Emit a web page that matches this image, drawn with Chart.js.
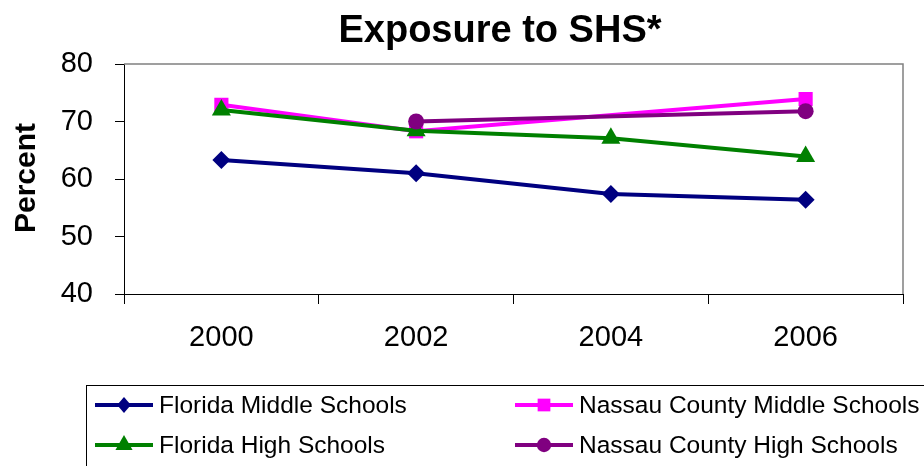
<!DOCTYPE html>
<html>
<head>
<meta charset="utf-8">
<script src="https://cdn.jsdelivr.net/npm/chart.js@4/dist/chart.umd.min.js"></script>
<style>
  html, body { margin: 0; padding: 0; background: #fff; }
  #wrap { width: 924px; height: 466px; position: relative; }
</style>
</head>
<body>
<div id="wrap"><canvas id="myChart"></canvas></div>
<script>
// values
const years = ['2000', '2002', '2004', '2006'];
const flMiddle = [63.3, 61.0, 57.4, 56.4];
const nassauMiddle = [72.9, 68.3, null, 73.9];
const flHigh = [72.0, 68.4, 67.1, 63.9];
const nassauHigh = [null, 70.0, null, 71.8];
const yTicks = [40, 50, 60, 70, 80];

const chartTitle = 'Exposure to SHS*';
const yTitle = 'Percent';
const FONT = '"Liberation Sans", Arial, sans-serif';

const series = [
    {label: 'Florida Middle Schools', data: flMiddle, color: '#000080', style: 'rectRot', r: 9, order: 4},
    {label: 'Nassau County Middle Schools', data: nassauMiddle, color: '#FF00FF', style: 'rect', r: 10, order: 3},
    {label: 'Florida High Schools', data: flHigh, color: '#008000', style: 'triangle', r: 11, order: 2},
    {label: 'Nassau County High Schools', data: nassauHigh, color: '#800080', style: 'circle', r: 8, order: 1}
];

function marker(ctx, style, x, y, r) {
    ctx.beginPath();
    if (style === 'rectRot') {
        ctx.moveTo(x - r * 0.85, y); ctx.lineTo(x, y - r); ctx.lineTo(x + r * 0.85, y); ctx.lineTo(x, y + r);
    } else if (style === 'rect') {
        const s = r * Math.SQRT1_2;
        ctx.rect(x - s, y - s, 2 * s, 2 * s);
    } else if (style === 'triangle') {
        ctx.moveTo(x, y - r);
        ctx.lineTo(x + r * 0.866, y + r * 0.5);
        ctx.lineTo(x - r * 0.866, y + r * 0.5);
    } else {
        ctx.arc(x, y, r, 0, Math.PI * 2);
    }
    ctx.closePath();
    ctx.fill();
}

const decor = {
    id: 'decor',
    beforeDatasetsDraw(chart) {
        const {ctx, chartArea: a} = chart;
        ctx.save();
        ctx.strokeStyle = '#808080';
        ctx.lineWidth = 1.5;
        ctx.beginPath();
        ctx.moveTo(a.left, a.top); ctx.lineTo(a.right, a.top); ctx.lineTo(a.right, a.bottom);
        ctx.stroke();
        ctx.restore();
    },
    afterDraw(chart) {
        const ctx = chart.ctx;
        ctx.save();
        // title
        ctx.fillStyle = '#000';
        ctx.font = 'bold 38px ' + FONT;
        ctx.textAlign = 'center';
        ctx.textBaseline = 'alphabetic';
        ctx.fillText(chartTitle, 500, 42);
        // y axis title
        ctx.save();
        ctx.translate(35, 178);
        ctx.rotate(-Math.PI / 2);
        ctx.font = 'bold 30px ' + FONT;
        ctx.fillText(yTitle, 0, 0);
        ctx.restore();
        // legend box
        const top = chart.scales.x.bottom;
        ctx.strokeStyle = '#000';
        ctx.lineWidth = 1;
        ctx.strokeRect(86.5, top + 0.5, 860, 100);
        ctx.font = '24.5px ' + FONT;
        ctx.textAlign = 'left';
        ctx.textBaseline = 'middle';
        chart.data.datasets.forEach((ds, i) => {
            const col = i % 2, row = Math.floor(i / 2);
            const x0 = col ? 515 : 95;
            const y = top + 20 + row * 40;
            ctx.strokeStyle = ds.borderColor;
            ctx.lineWidth = 4;
            ctx.beginPath(); ctx.moveTo(x0, y); ctx.lineTo(x0 + 58, y); ctx.stroke();
            ctx.fillStyle = ds.pointBackgroundColor;
            marker(ctx, ds.pointStyle, x0 + 29, y, ds.pointRadius * 0.9);
            ctx.fillStyle = '#000';
            ctx.fillText(ds.label, x0 + 64, y + 1);
        });
        ctx.restore();
    }
};

const chart = new Chart(document.getElementById('myChart'), {
    type: 'line',
    data: {
        labels: years,
        datasets: series.map(s => ({
            label: s.label,
            data: s.data,
            borderColor: s.color,
            backgroundColor: s.color,
            pointBackgroundColor: s.color,
            pointBorderColor: s.color,
            pointBorderWidth: 0,
            pointStyle: s.style,
            pointRadius: s.r,
            borderWidth: 4,
            tension: 0,
            spanGaps: true,
            order: s.order
        }))
    },
    options: {
        responsive: true,
        maintainAspectRatio: false,
        animation: false,
        layout: {padding: {left: 0, right: 21, top: 64, bottom: 81}},
        plugins: {legend: {display: false}, title: {display: false}, tooltip: {enabled: false}},
        scales: {
            x: {
                offset: true,
                grid: {offset: true, drawOnChartArea: false, drawTicks: true, tickLength: 10, color: '#000'},
                border: {color: '#000', width: 1},
                ticks: {color: '#000', font: {family: FONT, size: 29}, padding: 17, maxRotation: 0},
                afterFit: s => { s.height = 91; }
            },
            y: {
                min: 40, max: 80,
                afterBuildTicks: s => { s.ticks = yTicks.map(v => ({value: v})); },
                grid: {drawOnChartArea: false, drawTicks: true, tickLength: 9, color: '#000'},
                border: {color: '#000', width: 1},
                ticks: {color: '#000', font: {family: FONT, size: 29}, padding: 22},
                afterFit: s => { s.width = 124; }
            }
        }
    },
    plugins: [decor]
});
</script>
</body>
</html>
